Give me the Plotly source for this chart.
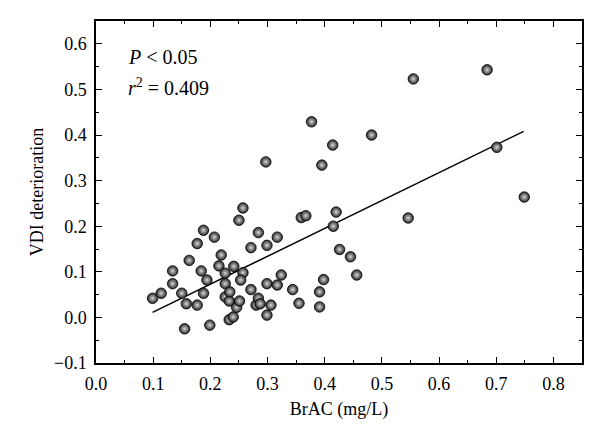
import plotly.graph_objects as go

# BrAC (mg/L) and VDI deterioration
brac = [0.099, 0.114, 0.134, 0.134, 0.150, 0.155, 0.158, 0.163, 0.177, 0.177,
        0.184, 0.188, 0.188, 0.194, 0.199, 0.207, 0.215, 0.219, 0.226, 0.226,
        0.226, 0.233, 0.234, 0.233, 0.240, 0.241, 0.246, 0.250, 0.251, 0.257,
        0.257, 0.253, 0.271, 0.271, 0.280, 0.284, 0.284, 0.287, 0.299, 0.299,
        0.299, 0.306, 0.317, 0.317, 0.324, 0.344, 0.355, 0.359, 0.367, 0.391,
        0.391, 0.398, 0.415, 0.420, 0.426, 0.445, 0.456, 0.546, 0.749, 0.414,
        0.482, 0.555, 0.684, 0.701, 0.297, 0.377, 0.395]
vdi = [0.042, 0.053, 0.102, 0.074, 0.053, -0.025, 0.030, 0.125, 0.027, 0.162,
       0.102, 0.191, 0.053, 0.082, -0.017, 0.176, 0.113, 0.137, 0.097, 0.074,
       0.045, 0.036, 0.056, -0.005, 0.001, 0.112, 0.022, 0.213, 0.036, 0.240,
       0.098, 0.082, 0.153, 0.061, 0.027, 0.186, 0.042, 0.030, 0.158, 0.074,
       0.005, 0.027, 0.176, 0.071, 0.093, 0.061, 0.031, 0.219, 0.223, 0.056,
       0.023, 0.083, 0.200, 0.231, 0.149, 0.133, 0.093, 0.218, 0.264, 0.378,
       0.400, 0.523, 0.543, 0.373, 0.341, 0.429, 0.334]

# Regression line end points
fit_x = [0.099, 0.748]
fit_y = [0.011, 0.408]

x_ticks = [0.0, 0.1, 0.2, 0.3, 0.4, 0.5, 0.6, 0.7, 0.8]
y_ticks = [-0.1, 0.0, 0.1, 0.2, 0.3, 0.4, 0.5, 0.6]

FONT = "Liberation Serif, Times New Roman, serif"

fig = go.Figure()
fig.add_trace(go.Scatter(
    x=fit_x, y=fit_y, mode="lines",
    line=dict(color="black", width=1.5), showlegend=False, hoverinfo="skip"))
fig.add_trace(go.Scatter(
    x=brac, y=vdi, mode="markers", showlegend=False,
    marker=dict(size=10.5, color="#252525",
                gradient=dict(type="radial", color="#d8d8d8"),
                line=dict(color="#000000", width=0.8))))

axis_common = dict(
    showgrid=False, zeroline=False, showline=True, linecolor="black", linewidth=1.5,
    mirror="allticks", ticks="inside", ticklen=6, tickwidth=1.2, tickcolor="black",
    tickformat=".1f", tickfont=dict(family=FONT, size=18, color="black"),
    minor=dict(ticks="inside", ticklen=3.5, tickwidth=1.2, tickcolor="black"),
    ticklabelstandoff=4,
)

fig.update_xaxes(range=[0, 0.85], tickvals=x_ticks, minor_dtick=0.05,
                 title=dict(text="BrAC (mg/L)", font=dict(family=FONT, size=18, color="black"),
                            standoff=9),
                 **axis_common)
fig.update_yaxes(range=[-0.1, 0.65], tickvals=y_ticks, minor_dtick=0.05,
                 title=dict(text="VDI deterioration", font=dict(family=FONT, size=18, color="black"),
                            standoff=6),
                 **axis_common)

fig.add_annotation(x=0.053, y=0.572, xref="x", yref="y", xanchor="left", yanchor="middle",
                   text="<i>P</i> < 0.05", showarrow=False,
                   font=dict(family=FONT, size=20, color="black"))
fig.add_annotation(x=0.053, y=0.505, xref="x", yref="y", xanchor="left", yanchor="middle",
                   text="<i>r</i><sup>2</sup> = 0.409", showarrow=False,
                   font=dict(family=FONT, size=20, color="black"))

fig.update_layout(width=600, height=443, plot_bgcolor="white", paper_bgcolor="white",
                  margin=dict(l=87.5, r=26, t=12.5, b=87.5))

fig.write_html("out.html")
